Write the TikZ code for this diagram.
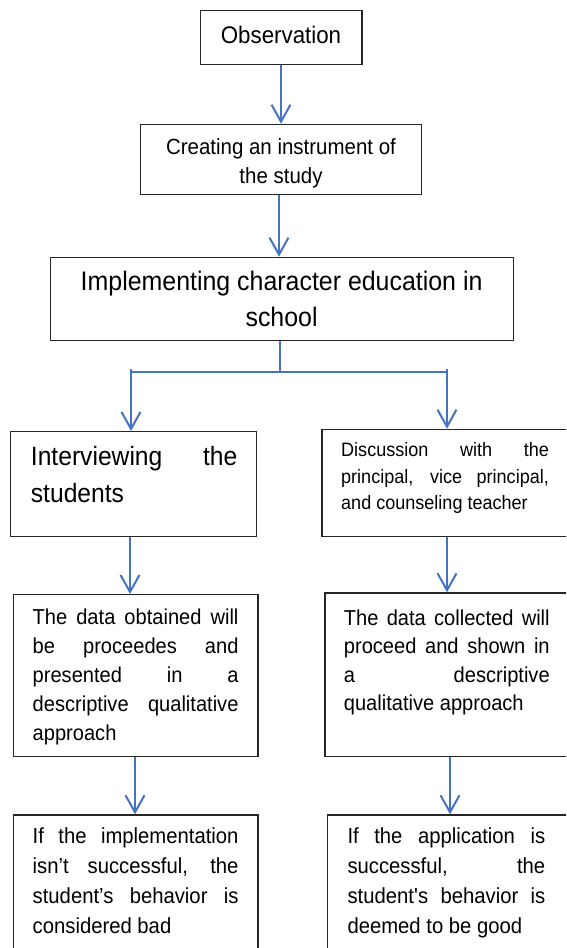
\documentclass[tikz,border=0pt]{standalone}
\usepackage{fontspec}
\setmainfont[FakeStretch=0.93]{Liberation Sans}
\usetikzlibrary{arrows.meta}
\definecolor{arrowblue}{RGB}{68,114,196}
\newcommand{\jl}[1]{\makebox[\linewidth][s]{#1}\\}
\begin{document}
\begin{tikzpicture}[x=1pt,y=-1pt,
  box/.style={draw=black!85, line width=1.3pt, inner sep=0pt, anchor=north west},
  flow/.style={draw=arrowblue, line width=2pt, -{Straight Barb[length=17pt,width=19pt]}},
  link/.style={draw=arrowblue, line width=2pt},
  txt/.style={inner sep=0pt, anchor=base west},
  ctxt/.style={inner sep=0pt, anchor=base}]
\clip (0,0) rectangle (566,948);
% boxes
\node[box, minimum width=161.4pt, minimum height=54.3pt] (obs) at (200,9.7) {};
\node[box, minimum width=281pt, minimum height=70.3pt] (cre) at (140,123.7) {};
\node[box, minimum width=462.8pt, minimum height=83.3pt] (impl) at (49.8,256.7) {};
\node[box, minimum width=245.5pt, minimum height=104.7pt] (intv) at (10.1,431) {};
\node[box, minimum width=280pt, minimum height=107pt] (disc) at (321.3,428.7) {};
\node[box, minimum width=244.8pt, minimum height=162pt] (dat1) at (12.6,594) {};
\node[box, minimum width=280pt, minimum height=163.7pt] (dat2) at (324.2,592.3) {};
\node[box, minimum width=244.8pt, minimum height=150pt] (res1) at (12.6,814.3) {};
\node[box, minimum width=280pt, minimum height=150pt] (res2) at (326.7,814.3) {};
% texts
\node[ctxt] (tobs) at (281,43) {\fontsize{24}{29}\selectfont Observation};
\node[ctxt] (tcre) at (281,154) {\parbox[t]{270pt}{\centering\fontsize{22}{29.5}\selectfont Creating an instrument of\\the study}};
\node[ctxt] (timpl) at (281.6,290.7) {\parbox[t]{450pt}{\centering\fontsize{26.8}{36.1}\selectfont Implementing character education in\\school}};
\node[txt] (tintv) at (30.7,465.7) {\parbox[t]{206.5pt}{\fontsize{26.5}{36.6}\selectfont\jl{Interviewing the}students}};
\node[txt] (tdisc) at (341,456.4) {\parbox[t]{207.7pt}{\fontsize{19.4}{26.6}\selectfont\jl{Discussion with the}\jl{principal, vice principal,}and counseling teacher}};
\node[txt] (tdat1) at (32.5,624.8) {\parbox[t]{205.8pt}{\fontsize{21.6}{28.9}\selectfont\jl{The data obtained will}\jl{be proceedes and}\jl{presented in a}\jl{descriptive qualitative}approach}};
\node[txt] (tdat2) at (343.7,625.1) {\parbox[t]{205.8pt}{\fontsize{21.6}{28.5}\selectfont\jl{The data collected will}\jl{proceed and shown in}\jl{a descriptive}qualitative approach}};
\node[txt] (tres1) at (32.5,843.8) {\parbox[t]{205.8pt}{\fontsize{21.8}{30}\selectfont\jl{If the implementation}\jl{isn’t successful, the}\jl{student’s behavior is}considered bad}};
\node[txt] (tres2) at (347.3,843.8) {\parbox[t]{197.7pt}{\fontsize{21.8}{30}\selectfont\jl{If the application is}\jl{successful, the}\jl{student\textquotesingle s behavior is}deemed to be good}};
% connector coordinates
\coordinate (x0) at (281,0);
\coordinate (x1) at (279,0);
\coordinate (jn) at (280,372);
\coordinate (jl) at (130.5,372);
\coordinate (jr) at (447,372);
\coordinate (jlt) at (131,369);
\coordinate (jrt) at (447,369);
\coordinate (xl1) at (130,0);
\coordinate (xl2) at (135,0);
\coordinate (xr1) at (447,0);
\coordinate (xr2) at (450,0);
% connectors
\draw[flow] (obs.south -| x0) -- (cre.north -| x0);
\draw[flow] (cre.south -| x1) -- (impl.north -| x1);
\draw[link] (impl.south -| jn) -- (jn);
\draw[link] (jl) -- (jr);
\draw[flow] (jlt) -- (jlt |- intv.north);
\draw[flow] (jrt) -- (jrt |- disc.north);
\draw[flow] (intv.south -| xl1) -- (dat1.north -| xl1);
\draw[flow] (disc.south -| xr1) -- (dat2.north -| xr1);
\draw[flow] (dat1.south -| xl2) -- (res1.north -| xl2);
\draw[flow] (dat2.south -| xr2) -- (res2.north -| xr2);
\end{tikzpicture}
\end{document}
